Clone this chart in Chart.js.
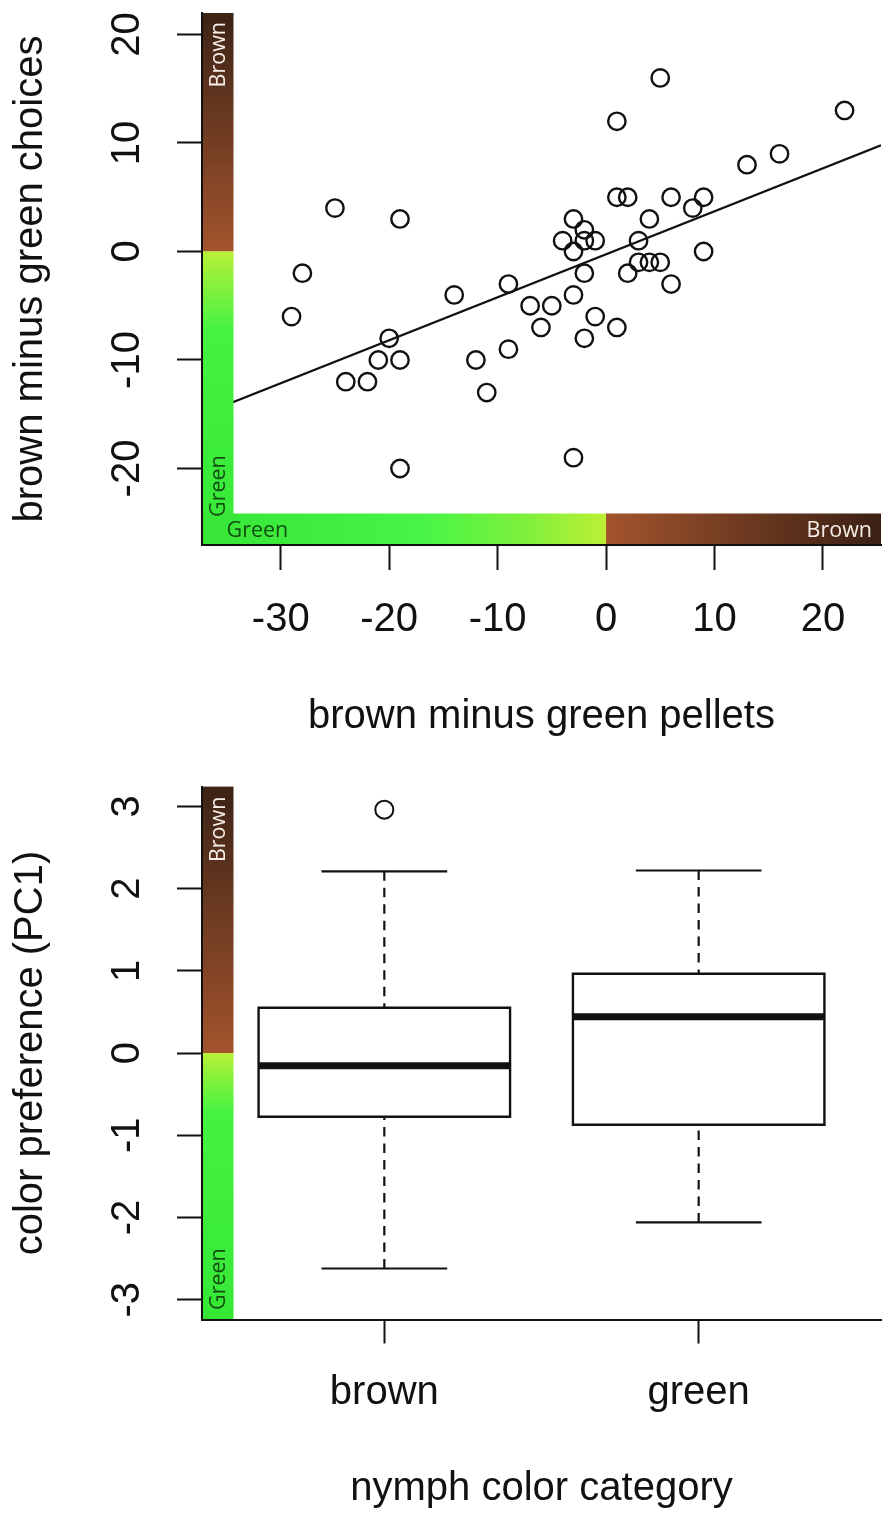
<!DOCTYPE html>
<html>
<head>
<meta charset="utf-8">
<script src="https://cdn.jsdelivr.net/npm/chart.js@4.4.0/dist/chart.umd.min.js"></script>
<style>
  html, body { margin: 0; padding: 0; background: #fff; }
  #wrap { position: relative; width: 887px; height: 1518px; }
  canvas { position: absolute; left: 0; }
  #scatterChart { top: 0; }
  #boxChart { top: 760px; }
</style>
</head>
<body>
<div id="wrap">
  <canvas id="scatterChart" width="887" height="760"></canvas>
  <canvas id="boxChart" width="887" height="758"></canvas>
</div>
<script>
// --- top panel: one point per nymph ---
const pelletDiff = [-29, -28, -25, -24, -22, -21, -20, -19, -19, -19,
                    -14, -12, -11, -9, -9, -7, -6, -5, -4, -3,
                    -3, -3, -3, -2, -2, -2, -2, -1, -1, 1,
                    1, 2, 1, 2, 3, 3, 4, 4, 5, 5,
                    6, 6, 8, 9, 9, 13, 16, 22];
const choiceDiff = [-6, -2, 4, -12, -12, -10, -8, -10, 3, -20,
                    -4, -10, -13, -3, -9, -5, -7, -5, 1, 3,
                    0, -4, -19, 2, 1, -2, -8, 1, -6, 12,
                    5, 5, -7, -2, 1, -1, 3, -1, -1, 16,
                    5, -3, 4, 5, 0, 8, 9, 13];
const pelletTicks = [-30, -20, -10, 0, 10, 20];
const choiceTicks = [-20, -10, 0, 10, 20];
// fitted line as drawn in the figure
const fitIntercept = -0.26;
const fitSlope = 0.396;

// --- bottom panel: boxplot per nymph colour ---
const groups = ['brown', 'green'];
const lowerWhisker = [-2.62, -2.06];
const lowerQuart = [-0.775, -0.872];
const medians = [-0.155, 0.44];
const upperQuart = [0.55, 0.964];
const upperWhisker = [2.21, 2.22];
const outliers = [[2.96], []];
const pcTicks = [-3, -2, -1, 0, 1, 2, 3];

const FONT = '"Liberation Sans", Arial, Helvetica, sans-serif';
const BAR_FONT = '"Open Sans", sans-serif';
const BAR_W = 31.5;

function vText(ctx, txt, x, y, align) {
    ctx.save();
    ctx.translate(x, y);
    ctx.rotate(-Math.PI / 2);
    ctx.textAlign = align;
    ctx.textBaseline = 'alphabetic';
    ctx.fillText(txt, 0, 0);
    ctx.restore();
}

// brown above zero, green below zero, along the left edge
function drawVerticalBar(ctx, a, y0, greenStop) {
    let g = ctx.createLinearGradient(0, a.top, 0, y0);
    g.addColorStop(0, '#3c2316');
    g.addColorStop(1, '#a3542d');
    ctx.fillStyle = g;
    ctx.fillRect(a.left, a.top, BAR_W, y0 - a.top);

    g = ctx.createLinearGradient(0, y0, 0, a.bottom);
    g.addColorStop(0, '#b8f036');
    g.addColorStop(greenStop, '#45f242');
    g.addColorStop(1, '#36e836');
    ctx.fillStyle = g;
    ctx.fillRect(a.left, y0, BAR_W, a.bottom - y0);
}

const topBars = {
    id: 'topBars',
    afterDatasetsDraw(chart) {
        const {ctx, chartArea: a, scales: {x, y}} = chart;
        const y0 = y.getPixelForValue(0);
        const x0 = x.getPixelForValue(0);
        ctx.save();
        drawVerticalBar(ctx, a, y0, 0.27);

        let g = ctx.createLinearGradient(a.left, 0, x0, 0);
        g.addColorStop(0, '#36e536');
        g.addColorStop(0.55, '#48f546');
        g.addColorStop(0.8, '#7ef03c');
        g.addColorStop(1, '#bdf034');
        ctx.fillStyle = g;
        ctx.fillRect(a.left, a.bottom - BAR_W, x0 - a.left, BAR_W);

        g = ctx.createLinearGradient(x0, 0, a.right, 0);
        g.addColorStop(0, '#a3542d');
        g.addColorStop(1, '#3a2014');
        ctx.fillStyle = g;
        ctx.fillRect(x0, a.bottom - BAR_W, a.right - x0, BAR_W);

        ctx.font = '21.5px ' + BAR_FONT;
        ctx.fillStyle = '#f6eee6';
        vText(ctx, 'Brown', a.left + 22.5, a.top + 9, 'right');
        ctx.textAlign = 'right';
        ctx.textBaseline = 'alphabetic';
        ctx.fillText('Brown', a.right - 9, a.bottom - 8);
        ctx.fillStyle = '#144d14';
        vText(ctx, 'Green', a.left + 22.5, a.bottom - 28, 'left');
        ctx.textAlign = 'left';
        ctx.fillText('Green', a.left + 24.5, a.bottom - 8);
        ctx.restore();
    }
};

const bottomBar = {
    id: 'bottomBar',
    afterDatasetsDraw(chart) {
        const {ctx, chartArea: a, scales: {y}} = chart;
        ctx.save();
        drawVerticalBar(ctx, a, y.getPixelForValue(0), 0.22);
        ctx.font = '21.5px ' + BAR_FONT;
        ctx.fillStyle = '#f6eee6';
        vText(ctx, 'Brown', a.left + 22.5, a.top + 10, 'right');
        ctx.fillStyle = '#144d14';
        vText(ctx, 'Green', a.left + 22.5, a.bottom - 9.5, 'left');
        ctx.restore();
    }
};

function axisBase(ticks, title, opts) {
    return {
        type: 'linear',
        min: opts.min,
        max: opts.max,
        afterBuildTicks: (scale) => { scale.ticks = ticks.map(v => ({value: v})); },
        afterFit: (s) => {
            opts.fit(s);
            // keep the plot box where the figure has it
            s.paddingTop = 0; s.paddingBottom = 0;
            s.paddingLeft = 0; s.paddingRight = 0;
        },
        grid: { drawOnChartArea: false, drawTicks: true, tickLength: opts.tl, tickWidth: 2, tickColor: '#111' },
        border: { display: true, color: '#111', width: 2, z: 1 },
        ticks: Object.assign({ color: '#111', autoSkip: false, font: { family: FONT, size: 40 } }, opts.ticks),
        title: { display: true, text: title, color: '#111', font: { family: FONT, size: 40 }, padding: opts.titlePad }
    };
}

function build() {
    Chart.defaults.font.family = FONT;

    // ----- top panel -----
    const xMin = -37.26, xMax = 25.36;
    const points = pelletDiff.map((v, i) => ({x: v, y: choiceDiff[i]}));

    new Chart(document.getElementById('scatterChart'), {
        type: 'scatter',
        data: {
            datasets: [
                {
                    data: [{x: xMin, y: fitIntercept + fitSlope * xMin},
                           {x: xMax, y: fitIntercept + fitSlope * xMax}],
                    showLine: true,
                    borderColor: '#111',
                    borderWidth: 2.2,
                    pointRadius: 0
                },
                {
                    data: points,
                    pointStyle: 'circle',
                    pointRadius: 8.7,
                    pointBorderWidth: 2.4,
                    pointBorderColor: '#111',
                    pointBackgroundColor: 'rgba(0,0,0,0)'
                }
            ]
        },
        options: {
            responsive: false,
            animation: false,
            devicePixelRatio: 1,
            events: [],
            layout: { autoPadding: false, padding: { top: 13, right: 6, left: 0, bottom: 0 } },
            plugins: { legend: { display: false }, tooltip: { enabled: false } },
            scales: {
                x: axisBase(pelletTicks, 'brown minus green pellets', {
                    min: xMin, max: xMax, tl: 25,
                    fit: (s) => { s.height = 215; },
                    ticks: { padding: 26 },
                    titlePad: { top: 0, bottom: 19 }
                }),
                y: axisBase(choiceTicks, 'brown minus green choices', {
                    min: -27.05, max: 21.98, tl: 25,
                    fit: (s) => { s.width = 202; },
                    ticks: { padding: 20, minRotation: 90, maxRotation: 90, crossAlign: 'center' },
                    titlePad: { top: 7, bottom: 0 }
                })
            }
        },
        plugins: [topBars]
    });

    // ----- bottom panel -----
    const boxHalf = 0.4, stapleHalf = 0.2;
    const seg = (pts, extra) => Object.assign({
        data: pts, showLine: true, borderColor: '#111', borderWidth: 2.2,
        pointRadius: 0, borderCapStyle: 'butt', borderJoinStyle: 'miter', order: 2
    }, extra);
    const sets = [];
    groups.forEach((name, i) => {
        const p = i + 1;
        sets.push(seg([{x: p - boxHalf, y: medians[i]}, {x: p + boxHalf, y: medians[i]}],
                      {borderWidth: 7, order: 0}));
        sets.push(seg([{x: p - boxHalf, y: lowerQuart[i]}, {x: p + boxHalf, y: lowerQuart[i]},
                       {x: p + boxHalf, y: upperQuart[i]}, {x: p - boxHalf, y: upperQuart[i]},
                       {x: p - boxHalf, y: lowerQuart[i]}],
                      {borderWidth: 2.4, borderCapStyle: 'square', order: 1}));
        sets.push(seg([{x: p, y: upperWhisker[i]}, {x: p, y: upperQuart[i]}], {borderDash: [9.5, 7]}));
        sets.push(seg([{x: p, y: lowerWhisker[i]}, {x: p, y: lowerQuart[i]}], {borderDash: [9.5, 7]}));
        sets.push(seg([{x: p - stapleHalf, y: upperWhisker[i]}, {x: p + stapleHalf, y: upperWhisker[i]}]));
        sets.push(seg([{x: p - stapleHalf, y: lowerWhisker[i]}, {x: p + stapleHalf, y: lowerWhisker[i]}]));
    });
    const outPts = [];
    outliers.forEach((list, i) => list.forEach(v => outPts.push({x: i + 1, y: v})));
    sets.push({
        data: outPts, pointStyle: 'circle', pointRadius: 9, pointBorderWidth: 2,
        pointBorderColor: '#111', pointBackgroundColor: 'rgba(0,0,0,0)', order: 0
    });

    new Chart(document.getElementById('boxChart'), {
        type: 'scatter',
        data: { datasets: sets },
        options: {
            responsive: false,
            animation: false,
            devicePixelRatio: 1,
            events: [],
            layout: { autoPadding: false, padding: { top: 26.6, right: 6, left: 0, bottom: 0 } },
            plugins: { legend: { display: false }, tooltip: { enabled: false } },
            scales: {
                x: axisBase(groups.map((g, i) => i + 1), 'nymph color category', {
                    min: 0.42, max: 2.58, tl: 24,
                    fit: (s) => { s.height = 198.5; },
                    ticks: { padding: 25.5, callback: (v) => groups[Math.round(v) - 1] },
                    titlePad: { top: 0, bottom: 5 }
                }),
                y: axisBase(pcTicks, 'color preference (PC1)', {
                    min: -3.24, max: 3.24, tl: 25,
                    fit: (s) => { s.width = 202; },
                    ticks: { padding: 31, minRotation: 90, maxRotation: 90, crossAlign: 'center' },
                    titlePad: { top: 7, bottom: 0 }
                })
            }
        },
        plugins: [bottomBar]
    });
}

Promise.all([
    document.fonts.load('40px "Liberation Sans"'),
    document.fonts.load('20px "Open Sans"')
]).then(build, build);
</script>
</body>
</html>
